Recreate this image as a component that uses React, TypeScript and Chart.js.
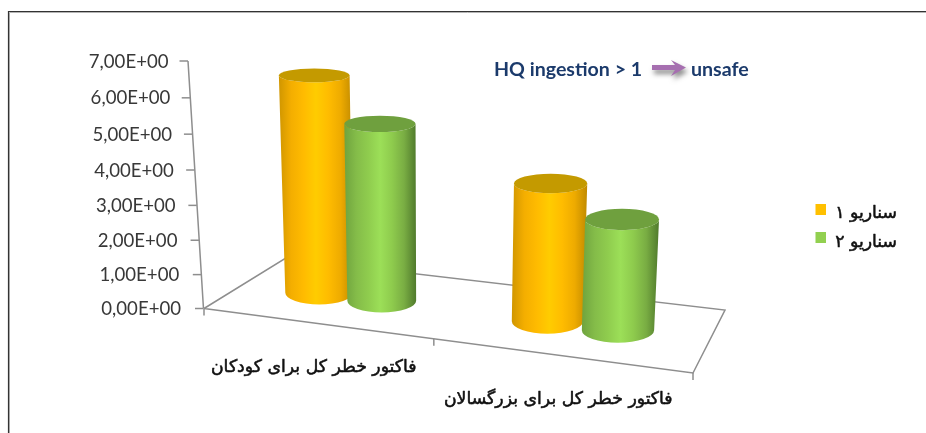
import React, { useEffect, useRef } from "react";
import { Chart, registerables } from "chart.js";

Chart.register(...registerables);

const categories = ["فاکتور خطر کل برای کودکان", "فاکتور خطر کل برای بزرگسالان"];
const scenario1 = [6.15, 3.9];
const scenario2 = [5.0, 3.13];
const seriesNames = ["سناریو ۱", "سناریو ۲"];
const yTickLabels = ["0,00E+00", "1,00E+00", "2,00E+00", "3,00E+00", "4,00E+00", "5,00E+00", "6,00E+00", "7,00E+00"];

const AXIS = "#8e8e8e";
const LATIN = "Lato, sans-serif";
const PERSIAN = '"DejaVu Sans", sans-serif';

const palettes = [
  { swatch: "#ffc000", top: "#c49a00", stops: ["#d09600", "#f4ae00", "#ffbb00", "#ffcc00", "#ffbc00", "#eeab00", "#c08a00"] },
  { swatch: "#92d050", top: "#6fa03e", stops: ["#6fa33e", "#84bc49", "#8fcc4e", "#9cdf58", "#8ecb4d", "#79ad43", "#507a2c"] },
];

const floorCorners = {
  frontLeft: [204, 308.5], frontRight: [693, 373], backRight: [725, 310], backLeft: [285, 258.5],
};

function floorPoint(u: number, depth: number) {
  const w = u * (0.88 + 0.12 * u);
  const { frontLeft: a, frontRight: b, backRight: c, backLeft: d } = floorCorners;
  const fx = a[0] + (b[0] - a[0]) * w, fy = a[1] + (b[1] - a[1]) * w;
  const bx = d[0] + (c[0] - d[0]) * w, by = d[1] + (c[1] - d[1]) * w;
  return [fx + (bx - fx) * depth, fy + (by - fy) * depth];
}

const line = (ctx: CanvasRenderingContext2D, pts: number[][], color = AXIS, width = 1.5) => {
  ctx.beginPath();
  pts.forEach((p, i) => (i ? ctx.lineTo(p[0], p[1]) : ctx.moveTo(p[0], p[1])));
  ctx.strokeStyle = color;
  ctx.lineWidth = width;
  ctx.stroke();
};

function persianText(ctx: CanvasRenderingContext2D, text: string, x: number, y: number, align: CanvasTextAlign) {
  ctx.font = `17.3px ${PERSIAN}`;
  ctx.direction = "rtl";
  ctx.textAlign = align;
  ctx.fillStyle = "#111";
  ctx.strokeStyle = "#111";
  ctx.lineWidth = 0.55;
  ctx.lineJoin = "round";
  ctx.fillText(text, x, y);
  ctx.strokeText(text, x, y);
  ctx.direction = "ltr";
}

function drawCylinder(ctx: CanvasRenderingContext2D, bar: any, area: any, pal: any) {
  const u = (bar.x - area.left) / area.width;
  const [bx, by] = floorPoint(u, 0.5);
  const h = bar.base - bar.y;
  const grow = 1 + 0.0002 * h;
  const rb = (bar.width / 2) * (0.95 + 0.1 * u);
  const rt = rb * grow;
  const tx = 433 + (bx - 433) * grow;
  const ty = by - h;
  const ryb = 4.6 + 0.024 * by;
  const ryt = 5 + 0.026 * ty;
  const grad = ctx.createLinearGradient(Math.min(bx - rb, tx - rt), 0, Math.max(bx + rb, tx + rt), 0);
  pal.stops.forEach((c: string, i: number) => grad.addColorStop(i / (pal.stops.length - 1), c));
  ctx.beginPath();
  ctx.moveTo(tx - rt, ty);
  ctx.lineTo(bx - rb, by);
  ctx.ellipse(bx, by, rb, ryb, 0, Math.PI, 0, true);
  ctx.lineTo(tx + rt, ty);
  ctx.ellipse(tx, ty, rt, ryt, 0, 0, Math.PI, false);
  ctx.closePath();
  ctx.fillStyle = grad;
  ctx.fill();
  ctx.beginPath();
  ctx.ellipse(tx, ty, rt, ryt, 0, 0, Math.PI * 2);
  ctx.fillStyle = pal.top;
  ctx.fill();
}

const scenePlugin = {
  id: "scene",
  beforeDatasetsDraw(chart: any) {
    const { ctx, chartArea: area, scales } = chart;
    const y = scales.y;
    ctx.save();
    // outer frame
    line(ctx, [[9.5, 433], [9.5, 12.5], [926, 12.5]], "#b4b4b4", 1);
    line(ctx, [[8.5, 433], [8.5, 11.5], [926, 11.5]], "#333", 1.2);
    // slanted value axis with its ticks and labels
    const frac = (v: number) => (y.getPixelForValue(v) - y.top) / (y.bottom - y.top);
    const tickY = (v: number) => { const f = frac(v); return y.getPixelForValue(v) + 12 * f * (1 - f); };
    const axisX = (v: number) => 188 + frac(v) * 15.5;
    line(ctx, [[axisX(7), y.top], [axisX(0), y.bottom]]);
    ctx.font = `18.6px ${LATIN}`;
    ctx.textAlign = "right";
    ctx.textBaseline = "middle";
    y.ticks.forEach((t: any) => {
      const py = tickY(t.value);
      const ax = axisX(t.value);
      line(ctx, [[ax - 8.5, py], [ax, py]]);
      ctx.fillStyle = "#383838";
      ctx.fillText(t.label, ax - 19.5 - 3 * frac(t.value), py + 0.5);
    });
    // floor
    const { frontLeft, frontRight, backRight, backLeft } = floorCorners;
    line(ctx, [frontLeft, backLeft, backRight, frontRight, frontLeft]);
    [0, 0.5, 1].forEach((u) => {
      const p = floorPoint(u, 0);
      line(ctx, [p, [p[0], p[1] + 7]]);
    });
    // category labels
    chart.data.labels.forEach((label: string, i: number) => {
      const p = floorPoint((scales.x.getPixelForValue(i) - area.left) / area.width, 0);
      persianText(ctx, label, p[0] - 1.5, p[1] + 44, "center");
    });
    // cylinders, orange first in every group so green overlaps it
    chart.data.labels.forEach((_: string, i: number) => {
      chart.data.datasets.forEach((_d: any, d: number) => {
        drawCylinder(ctx, chart.getDatasetMeta(d).data[i], area, palettes[d]);
      });
    });
    // legend
    chart.data.datasets.forEach((d: any, i: number) => {
      const top = 204 + i * 28;
      ctx.fillStyle = palettes[i].swatch;
      ctx.fillRect(815.5, top, 10.5, 11);
      persianText(ctx, d.label, 897, top + 10 + i, "right");
    });
    // note
    ctx.textAlign = "left";
    ctx.font = `bold 19.6px ${LATIN}`;
    ctx.fillStyle = "#1b3a6b";
    ctx.fillText("HQ ingestion > 1", 494, 69.5);
    ctx.fillText("unsafe", 691, 69.5);
    ctx.save();
    ctx.shadowColor = "rgba(0,0,0,0.45)";
    ctx.shadowBlur = 5;
    ctx.shadowOffsetX = 2;
    ctx.shadowOffsetY = 4;
    ctx.fillStyle = "#a66fb0";
    ctx.beginPath();
    ctx.moveTo(652, 65);
    ctx.lineTo(675, 65);
    ctx.lineTo(671, 60);
    ctx.lineTo(686, 67.5);
    ctx.lineTo(671, 76);
    ctx.lineTo(675, 70);
    ctx.lineTo(652, 70);
    ctx.closePath();
    ctx.fill();
    ctx.restore();
    ctx.restore();
  },
  beforeDatasetDraw() {
    return false;
  },
};

export default function App() {
  const ref = useRef<HTMLCanvasElement>(null);
  useEffect(() => {
    document.body.style.margin = "0";
    const chart = new Chart(ref.current!, {
      type: "bar",
      data: {
        labels: categories,
        datasets: [
          { label: seriesNames[0], data: scenario1, backgroundColor: palettes[0].swatch, categoryPercentage: 0.573, barPercentage: 1 },
          { label: seriesNames[1], data: scenario2, backgroundColor: palettes[1].swatch, categoryPercentage: 0.573, barPercentage: 1 },
        ],
      },
      options: {
        responsive: false,
        animation: false,
        layout: { padding: { left: 204, top: 61, right: 233, bottom: 124.5 } },
        plugins: { legend: { display: false }, tooltip: { enabled: false } },
        scales: {
          x: { grid: { display: false, drawTicks: false }, border: { display: false }, ticks: { display: false } },
          y: {
            min: 0,
            max: 7,
            grid: { display: false, drawTicks: false },
            border: { display: false },
            ticks: { display: false, stepSize: 1, callback: (v: any) => yTickLabels[Number(v)] },
          },
        },
      },
      plugins: [scenePlugin],
    } as any);
    return () => chart.destroy();
  }, []);
  return <canvas ref={ref} width={926} height={433} style={{ display: "block" }} />;
}
